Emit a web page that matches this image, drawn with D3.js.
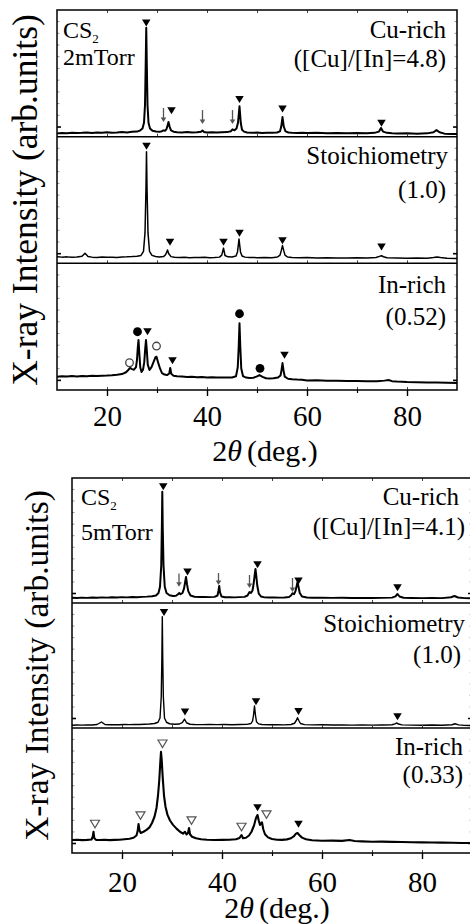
<!DOCTYPE html>
<html><head><meta charset="utf-8">
<script src="https://cdn.jsdelivr.net/npm/d3@7"></script>
<style>
body{margin:0;background:#fff}
svg{display:block}
</style></head><body>
<svg id="chart" width="470" height="924"></svg>
<script>
// ---- x axis ----
const xDomain = [10, 90];
const xTicksMajor = [20, 40, 60, 80];
const xTicksMinor = [30, 50, 70];
const xTicksAll = [20, 30, 40, 50, 60, 70, 80];

// ---- CS2, 2 mTorr : [2theta, intensity] ----
const cuRich2 = [[10,2.6],[11,2.9],[12,2.7],[13,3.1],[14,2.8],[15,3.0],[16,3.3],[17,2.9],[18,3.2],[19,3.0],[20,3.4],[21,3.1],[22,3.3],[23,3.6],[24,3.3],[25,3.8],[26,4.0],[26.6,4.8],[27.1,6.5],[27.4,11],[27.6,25],[27.75,60],[27.85,86],[27.95,60],[28.1,25],[28.3,11],[28.6,6.5],[29.1,4.6],[29.8,4.0],[30.5,3.8],[31.0,4.3],[31.3,5.0],[31.6,4.6],[31.9,6.0],[32.1,8.5],[32.3,11.6],[32.5,8.2],[32.8,5.0],[33.3,3.9],[34,3.5],[35,3.3],[36,3.6],[37,3.2],[38,3.4],[38.8,3.8],[39.1,4.8],[39.4,3.7],[40,3.3],[41,3.5],[42,3.2],[43,3.4],[44,3.6],[44.8,4.3],[45.1,5.8],[45.5,5.0],[45.9,6.5],[46.2,11],[46.5,24],[46.75,11],[47.0,5.5],[47.4,4.0],[48,3.3],[49,3.0],[50,3.2],[51,2.9],[52,3.1],[53,3.0],[54,3.3],[54.6,4.2],[54.85,8],[55.1,15.5],[55.35,8],[55.7,4.2],[56.3,3.3],[57,3.0],[58,2.8],[59,3.1],[60,2.8],[62,3.0],[64,2.7],[66,2.9],[68,2.6],[70,2.8],[72,2.7],[73.5,3.0],[74.4,4.0],[74.8,6.9],[75.2,4.0],[76,3.0],[77,2.7],[78,2.5],[80,2.7],[82,2.4],[84,2.6],[85.3,3.5],[85.9,5.2],[86.5,3.5],[87.5,2.4],[89,2.2],[90,2.1]];
const stoich2 = [[10,5.2],[11,4.9],[12,5.1],[13,4.8],[14,5.0],[15,5.6],[15.6,8.0],[16.2,5.4],[17,4.9],[18,4.7],[19,5.0],[20,4.8],[21,4.9],[22,4.7],[23,5.0],[24,5.1],[25,5.3],[26,5.6],[26.8,6.2],[27.3,9.5],[27.6,24],[27.8,60],[27.9,88],[28.0,60],[28.2,24],[28.5,9.5],[29.0,6.3],[29.7,5.4],[30.5,5.0],[31.3,5.3],[31.7,6.8],[31.95,8.8],[32.1,10.5],[32.35,7.5],[32.8,5.3],[33.5,4.8],[34.5,4.6],[35.5,4.8],[36.5,4.5],[37.5,4.7],[38.5,4.6],[39.5,4.8],[40.5,4.5],[41.5,4.6],[42.5,4.9],[42.95,6.5],[43.3,12],[43.6,6.2],[44.2,5.1],[45,5.0],[45.8,5.8],[46.1,9],[46.25,14],[46.4,19.2],[46.55,14],[46.7,9],[47.0,5.8],[47.6,4.9],[48.5,4.6],[50,4.5],[51.5,4.7],[53,4.5],[54.1,5.0],[54.6,6.5],[54.85,10],[55.1,14],[55.35,10],[55.6,6.5],[56.1,5.0],[57,4.6],[58.5,4.4],[60,4.6],[62,4.3],[64,4.5],[66,4.3],[68,4.2],[70,4.4],[72,4.2],[73.8,4.6],[74.5,5.5],[74.9,6.0],[75.3,5.2],[76,4.4],[78,4.2],[80,4.0],[82,4.2],[84,4.1],[85.3,4.6],[86,5.0],[86.7,4.6],[88,4.0],[90,3.8]];
const inRich2 = [[10,10.5],[11,10.8],[12,10.6],[13,11.0],[14,10.7],[15,11.1],[16,10.9],[17,11.2],[18,11.0],[19,11.3],[20,11.4],[21,11.6],[22,12.0],[23,12.6],[23.8,14.0],[24.3,16.0],[24.6,17.4],[25.0,16.5],[25.4,16.0],[25.8,18.0],[26.0,24],[26.15,33],[26.3,39.5],[26.45,30],[26.65,18],[26.9,14.2],[27.2,16],[27.45,22],[27.65,33],[27.8,39.5],[27.95,32],[28.15,20],[28.5,15.8],[28.9,18],[29.3,22],[29.7,26],[29.9,26.3],[30.2,22],[30.6,17],[31.0,13.4],[31.5,12.2],[32.0,11.8],[32.45,13],[32.65,17.4],[32.85,12.8],[33.3,11.3],[34,10.8],[35,10.6],[36,10.3],[37,10.4],[38,10.1],[39,10.2],[40,9.9],[41,10.0],[42,9.8],[43,9.9],[44,9.8],[45,9.9],[45.8,10.8],[46.15,18],[46.35,35],[46.5,52.6],[46.65,35],[46.85,17],[47.2,11.0],[47.8,9.8],[48.5,9.4],[49.3,9.7],[49.9,10.6],[50.5,11.8],[51.1,10.4],[51.8,9.3],[52.5,9.1],[53.3,9.2],[54.2,9.8],[54.7,11.5],[54.9,15.5],[55.1,21.3],[55.3,15.5],[55.55,10.5],[56.2,8.9],[57,8.5],[58,8.2],[59,8.0],[60,7.5],[62,7.6],[64,7.3],[66,7.4],[68,7.1],[70,7.1],[72,7.0],[74,6.9],[75.5,7.4],[76.3,7.9],[77,7.0],[78,6.7],[80,6.3],[82,6.2],[84,6.0],[86,5.9],[88,5.7],[90,5.5]];

// ---- CS2, 5 mTorr : [2theta, intensity] ----
const cuRich5 = [[10,4.2],[11,4.0],[12,4.3],[13,4.1],[14,4.4],[15,4.2],[16,4.5],[17,4.3],[18,4.6],[19,4.4],[20,4.7],[21,4.5],[22,4.8],[23,4.6],[24,4.9],[25,5.1],[26,5.4],[26.8,6.0],[27.3,8],[27.6,13],[27.85,30],[27.97,60],[28.06,89],[28.15,60],[28.3,30],[28.55,13],[28.9,8],[29.5,6.2],[30.2,5.6],[30.8,5.8],[31.2,7.0],[31.45,8.0],[31.7,7.0],[32.1,8.0],[32.4,11.5],[32.6,16],[32.8,20.8],[33.0,15],[33.25,9.5],[33.7,6.0],[34.5,5.0],[35.5,4.8],[36.5,4.9],[37.5,4.7],[38.5,4.9],[39.1,6.0],[39.3,10],[39.45,13.6],[39.6,8.5],[39.9,5.2],[40.6,4.6],[41.5,4.7],[42.5,4.5],[43.5,4.7],[44.5,4.9],[45.1,6.0],[45.5,8.8],[45.8,8.0],[46.1,10],[46.35,16],[46.55,23],[46.7,27.2],[46.85,22],[47.05,14],[47.35,7.5],[47.8,5.2],[48.5,4.5],[49.5,4.4],[50.5,4.5],[51.5,4.3],[52.5,4.4],[53.4,4.8],[53.8,6],[54.1,7.8],[54.4,7.0],[54.7,9.5],[54.95,14],[55.1,16.8],[55.3,13],[55.55,8],[56.0,5.2],[57,4.4],[58,4.2],[60,4.3],[62,4.1],[64,4.2],[66,4.0],[68,4.1],[70,4.0],[72,4.1],[74,4.3],[74.7,5.3],[75.1,7.2],[75.5,5.2],[76.3,4.2],[78,4.0],[80,3.9],[82,4.1],[84,3.9],[85.8,4.6],[86.5,5.6],[87.2,4.4],[88.5,3.9],[90,3.8]];
const stoich5 = [[10,2.2],[11,2.4],[12,2.3],[13,2.5],[14,2.4],[15,2.8],[15.9,4.8],[16.6,2.8],[17.5,2.6],[18.5,2.7],[19.5,2.6],[20.5,2.8],[21.5,2.7],[22.5,2.9],[23.5,2.8],[24.5,3.0],[25.5,3.2],[26.5,3.6],[27.2,4.6],[27.6,8],[27.85,25],[27.97,55],[28.06,89],[28.15,55],[28.27,25],[28.5,8],[28.9,4.6],[29.5,3.4],[30.5,3.0],[31.5,3.2],[32.1,4.5],[32.5,7.2],[32.9,4.2],[33.6,3.0],[34.5,2.8],[36,2.7],[37.5,2.9],[39,2.7],[40.5,2.8],[42,2.6],[43.5,2.8],[45,2.9],[45.8,3.6],[46.1,5.5],[46.3,10],[46.5,17.6],[46.7,10],[46.9,5.0],[47.3,3.3],[48,2.8],[49.5,2.6],[51,2.7],[52.5,2.5],[53.8,2.8],[54.5,3.8],[54.85,6],[55.1,8.2],[55.35,6],[55.7,3.6],[56.5,2.7],[58,2.5],[60,2.6],[62,2.4],[64,2.5],[66,2.3],[68,2.4],[70,2.3],[72,2.4],[74,2.6],[74.6,3.3],[74.9,4.0],[75.3,3.2],[76,2.5],[78,2.3],[80,2.2],[82,2.4],[84,2.2],[86,2.6],[86.6,3.4],[87.3,2.5],[88.5,2.1],[90,2.0]];
const inRich5 = [[10,10.4],[11,10.6],[12,10.3],[13,10.5],[13.9,10.8],[14.15,13],[14.3,17],[14.45,12],[14.8,10.5],[15.5,10.4],[16.5,10.6],[17.5,10.3],[18.5,10.5],[19.5,10.6],[20.5,11.0],[21.5,11.4],[22.3,12.2],[22.9,14],[23.15,18],[23.3,23.2],[23.5,18],[23.75,16],[24.3,17],[24.9,18.5],[25.5,20.5],[26.0,24],[26.5,29],[26.9,36],[27.2,46],[27.45,58],[27.65,72],[27.8,81],[27.95,74],[28.15,60],[28.4,46],[28.7,37],[29.1,30.5],[29.6,26],[30.2,22.5],[30.9,19.5],[31.6,17],[32.2,15.5],[32.6,17],[32.9,14.8],[33.2,16],[33.4,20],[33.6,15],[34.0,13],[34.8,11.8],[35.8,11.0],[37,10.6],[38.5,10.4],[40,10.5],[41.5,10.6],[42.8,11.0],[43.5,12],[43.9,14.4],[44.2,11.8],[44.8,12.2],[45.4,14],[45.9,17],[46.4,22],[46.8,28],[47.1,30.4],[47.35,26],[47.6,22.5],[47.85,24],[48.0,24.5],[48.25,19],[48.6,15],[49.2,12.5],[50,11.2],[51,10.6],[52,10.5],[53,10.9],[53.8,11.8],[54.4,13.5],[54.8,15.5],[55.1,16],[55.5,14.2],[56.0,12.3],[56.8,11.0],[58,10.2],[60,9.8],[62,9.9],[64,9.7],[65.5,10.4],[66.5,9.6],[68,9.3],[70,9.0],[72,9.1],[74,8.9],[76,8.8],[78,8.6],[80,8.5],[82,8.4],[84,8.3],[86,8.2],[88,8.0],[90,8.0]];

// ---- phase markers: [2theta, intensity] (arrows: [2theta, top, bottom]) ----
const triCu2 = [[27.85,89.7],[32.9,20.5],[46.5,29.4],[55.1,21.9],[74.9,10.6]];
const arrowCu2 = [[31.3,22.6,11.6],[39.1,21,10],[45.1,21,10]];
const triSt2 = [[27.9,92.4],[32.6,16.6],[43.3,16.6],[46.5,23.7],[55.1,17.8],[74.9,12.9]];
const triIn2 = [[28.1,46],[33.1,23.1],[55.5,27.4]];
const dotIn2 = [[26.1,46],[46.5,60.2],[50.6,17.1]];
const ringIn2 = [[24.5,21.5],[29.9,34.7]];

const triCu5 = [[28.25,93],[33.1,24.8],[47.1,30.7],[55.3,17.6],[75.1,12.3]];
const arrowCu5 = [[31.4,23.7,13],[39.3,24,14.4],[45.5,22.4,12],[54.1,20,8.8]];
const triSt5 = [[28.4,92.5],[32.6,12.8],[46.8,21],[55.3,13.3],[75.1,9]];
const openTriIn5 = [[14.6,23.2],[23.7,29.9],[28.1,87.4],[33.9,25.9],[43.9,20.8],[48.9,30.7]];
const triIn5 = [[47.1,36.3],[55.3,23]];

// ---- labels ----
const sampleLabels2 = [["Cu-rich","([Cu]/[In]=4.8)"],["Stoichiometry","(1.0)"],["In-rich","(0.52)"]];
const sampleLabels5 = [["Cu-rich","([Cu]/[In]=4.1)"],["Stoichiometry","(1.0)"],["In-rich","(0.33)"]];
const pressure2 = "2mTorr";
const pressure5 = "5mTorr";
const yTitle = "X-ray Intensity (arb.units)";

const FONT = "Liberation Serif";
const svg = d3.select("#chart").attr("font-family", FONT);

const panels = [
  {
    left: 57, right: 457, top: 10, bottom: 390,
    series: [cuRich2, stoich2, inRich2], widths: [2.0, 1.5, 2.0],
    tri: [triCu2, triSt2, triIn2], arrows: [arrowCu2, [], []],
    dots: [[], [], dotIn2], rings: [[], [], ringIn2], openTri: [[], [], []],
    labels: sampleLabels2,
    labelPos: [[446, 38, 446, 67], [448, 164, 446, 198], [446, 293, 446, 325]],
    gas: [63, 38, 65], pressure: pressure2,
    tickPad: 9.5, titleY: 461, titleDx: 8, yTitleX: 37, yTitleSize: 35.5
  },
  {
    left: 72, right: 472, top: 478, bottom: 853,
    series: [cuRich5, stoich5, inRich5], widths: [2.0, 1.4, 2.1],
    tri: [triCu5, triSt5, triIn5], arrows: [arrowCu5, [], []],
    dots: [[], [], []], rings: [[], [], []], openTri: [[], [], openTriIn5],
    labels: sampleLabels5,
    labelPos: [[459, 505, 465, 535], [465, 632, 461, 663], [463, 755, 463, 783]],
    gas: [81, 505, 540], pressure: pressure5,
    tickPad: 12.8, titleY: 918, titleDx: 5, yTitleX: 48, yTitleSize: 33.5
  }
];

function triDown(cx, cy, w, h) {
  return `M${cx - w / 2},${cy - h / 2}L${cx + w / 2},${cy - h / 2}L${cx},${cy + h / 2}Z`;
}

panels.forEach(p => {
  const g = svg.append("g");
  const x = d3.scaleLinear().domain(xDomain).range([p.left, p.right]);
  const h = (p.bottom - p.top) / 3;

  p.series.forEach((data, i) => {
    const yb = p.top + h * (i + 1), yt = p.top + h * i;
    const y = d3.scaleLinear().domain([0, 100]).range([yb, yt]);
    const line = d3.line().x(d => x(d[0])).y(d => y(d[1]));

    g.append("path").datum(data)
      .attr("d", line)
      .attr("fill", "none")
      .attr("stroke", "#000")
      .attr("stroke-width", p.widths[i])
      .attr("stroke-linejoin", "round");

    // inner x ticks along each sub-panel bottom
    const inner = g.append("g").attr("transform", `translate(0,${yb})`)
      .call(d3.axisBottom(x).tickValues(xTicksAll).tickSize(-3).tickFormat(""));
    inner.select(".domain").remove();
    inner.selectAll("line").attr("stroke", "#444").attr("stroke-width", 1);

    // faint y ticks on both edges
    const yTicks = d3.range(8, 100, 9.25);
    [["axisLeft", p.left], ["axisRight", p.right]].forEach(([fn, xp]) => {
      const ya = g.append("g").attr("transform", `translate(${xp},0)`)
        .call(d3[fn](y).tickValues(yTicks).tickSize(-2.5).tickFormat(""));
      ya.select(".domain").remove();
      ya.selectAll("line").attr("stroke", "#777").attr("stroke-width", 0.8);
      ya.selectAll(".tick").filter(d => d === 8).select("line")
        .attr("x2", fn === "axisLeft" ? 4 : -4).attr("stroke", "#000").attr("stroke-width", 1.6);
    });

    // divider
    if (i < 2) {
      g.append("line").attr("x1", p.left).attr("x2", p.right)
        .attr("y1", yb).attr("y2", yb)
        .attr("stroke", "#000").attr("stroke-width", 1.5);
    }

    // filled triangles
    g.selectAll(null).data(p.tri[i]).join("path")
      .attr("d", d => triDown(x(d[0]), y(d[1]), 8.5, 7))
      .attr("fill", "#000");

    // open triangles
    g.selectAll(null).data(p.openTri[i]).join("path")
      .attr("d", d => triDown(x(d[0]), y(d[1]), 9, 7.5))
      .attr("fill", "#fff").attr("stroke", "#555").attr("stroke-width", 1.2);

    // filled circles
    g.selectAll(null).data(p.dots[i]).join("circle")
      .attr("cx", d => x(d[0])).attr("cy", d => y(d[1])).attr("r", 4.4)
      .attr("fill", "#000");

    // open circles
    g.selectAll(null).data(p.rings[i]).join("circle")
      .attr("cx", d => x(d[0])).attr("cy", d => y(d[1])).attr("r", 3.8)
      .attr("fill", "#fff").attr("stroke", "#444").attr("stroke-width", 1.3);

    // arrows
    const ar = g.selectAll(null).data(p.arrows[i]).join("g");
    ar.append("line")
      .attr("x1", d => x(d[0])).attr("x2", d => x(d[0]))
      .attr("y1", d => y(d[1])).attr("y2", d => y(d[2]) - 3)
      .attr("stroke", "#555").attr("stroke-width", 1.3);
    ar.append("path")
      .attr("d", d => `M${x(d[0]) - 2.8},${y(d[2]) - 4.5}L${x(d[0]) + 2.8},${y(d[2]) - 4.5}L${x(d[0])},${y(d[2])}Z`)
      .attr("fill", "#555");

    // sample labels
    const lp = p.labelPos[i];
    g.append("text").attr("x", lp[0]).attr("y", lp[1]).attr("text-anchor", "end")
      .attr("font-family", FONT).attr("font-size", 25).text(p.labels[i][0]);
    g.append("text").attr("x", lp[2]).attr("y", lp[3]).attr("text-anchor", "end")
      .attr("font-family", FONT).attr("font-size", 25).text(p.labels[i][1]);
  });

  // top edge inner ticks
  const topAx = g.append("g").attr("transform", `translate(0,${p.top})`)
    .call(d3.axisTop(x).tickValues(xTicksAll).tickSize(-3).tickFormat(""));
  topAx.select(".domain").remove();
  topAx.selectAll("line").attr("stroke", "#444").attr("stroke-width", 1);

  // frame
  g.append("rect").attr("x", p.left).attr("y", p.top)
    .attr("width", p.right - p.left).attr("height", p.bottom - p.top)
    .attr("fill", "none").attr("stroke", "#000").attr("stroke-width", 1.5);

  // bottom axis
  const ax = g.append("g").attr("transform", `translate(0,${p.bottom})`)
    .call(d3.axisBottom(x).tickValues(xTicksMajor).tickSize(6).tickPadding(p.tickPad).tickFormat(d3.format("d")))
    .attr("font-family", FONT);
  ax.select(".domain").remove();
  ax.selectAll("line").attr("stroke", "#000").attr("stroke-width", 1.4);
  ax.selectAll("text").attr("font-size", 29).attr("font-family", FONT).attr("fill", "#000");
  const axm = g.append("g").attr("transform", `translate(0,${p.bottom})`)
    .call(d3.axisBottom(x).tickValues(xTicksMinor).tickSize(3).tickFormat(""));
  axm.select(".domain").remove();
  axm.selectAll("line").attr("stroke", "#000").attr("stroke-width", 1.2);

  // x title
  const cx = (p.left + p.right) / 2 + p.titleDx;
  const t = g.append("text").attr("x", cx).attr("y", p.titleY)
    .attr("text-anchor", "middle").attr("font-family", FONT).attr("font-size", 30);
  t.append("tspan").text("2");
  t.append("tspan").attr("font-style", "italic").text("θ");
  t.append("tspan").attr("dx", 5).text("(deg.)");

  // y title
  g.append("text")
    .attr("transform", `translate(${p.yTitleX},${(p.top + p.bottom) / 2}) rotate(-90)`)
    .attr("text-anchor", "middle").attr("font-family", FONT)
    .attr("font-size", p.yTitleSize).text(yTitle);

  // gas / pressure
  const gt = g.append("text").attr("x", p.gas[0]).attr("y", p.gas[1])
    .attr("font-family", FONT).attr("font-size", 24);
  gt.append("tspan").text("CS");
  gt.append("tspan").attr("font-size", 13).attr("dy", 5).text("2");
  g.append("text").attr("x", p.gas[0]).attr("y", p.gas[2])
    .attr("font-family", FONT).attr("font-size", 24).text(p.pressure);
});
</script>
</body></html>
